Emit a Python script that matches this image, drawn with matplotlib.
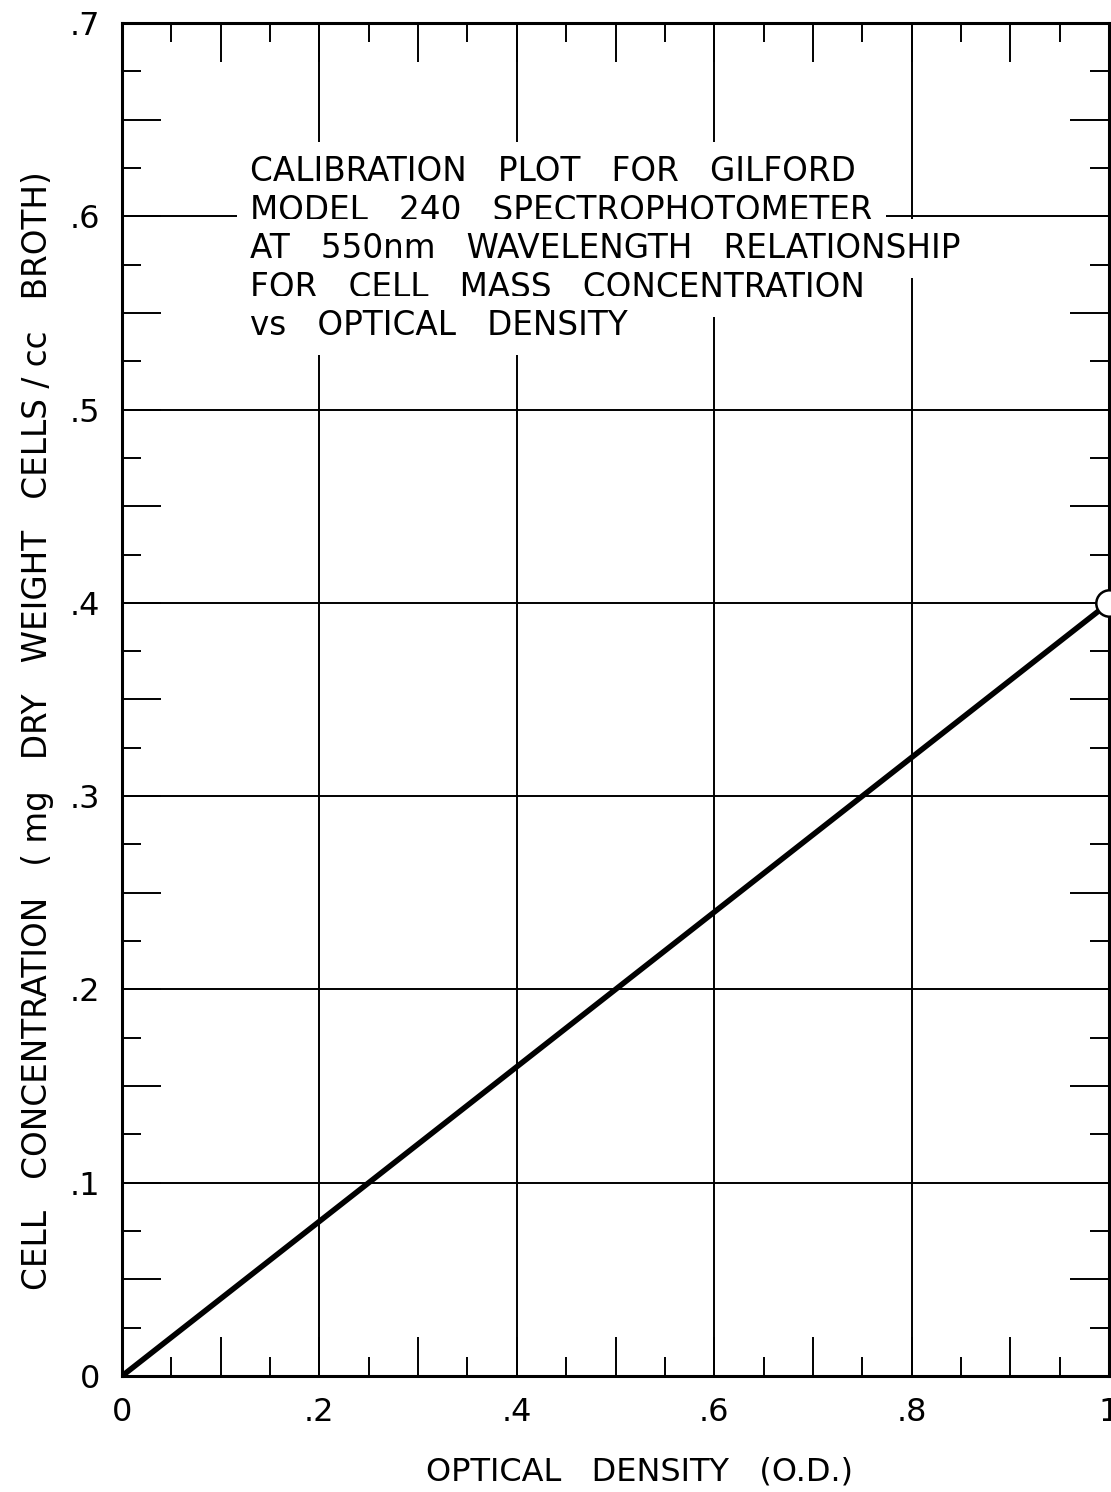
import matplotlib
matplotlib.use("Agg")
import matplotlib.pyplot as plt
import numpy as np
from matplotlib.ticker import MultipleLocator, FuncFormatter

# calibration line
od = [0.0, 1.0]
conc = [0.0, 0.4]
# the single open-circle point at the end of the line
pt_od = [1.0]
pt_conc = [0.4]

x_ticklabels = {0.0: "0", 0.2: ".2", 0.4: ".4", 0.6: ".6", 0.8: ".8", 1.0: "1"}
y_ticklabels = {0.0: "0", 0.1: ".1", 0.2: ".2", 0.3: ".3", 0.4: ".4",
                0.5: ".5", 0.6: ".6", 0.7: ".7"}

note_lines = [
    "CALIBRATION   PLOT   FOR   GILFORD",
    "MODEL   240   SPECTROPHOTOMETER",
    "AT   550nm   WAVELENGTH   RELATIONSHIP",
    "FOR   CELL   MASS   CONCENTRATION",
    "vs   OPTICAL   DENSITY",
]

plt.rcParams["font.family"] = ["DejaVu Sans"]

W, H = 1111, 1492
fig = plt.figure(figsize=(W / 100, H / 100), dpi=100)
ax = fig.add_axes([122 / W, 1 - 1376 / H, (1109 - 122) / W, (1376 - 23) / H])
ax.set_xlim(0, 1.0)
ax.set_ylim(0, 0.7)

for s in ax.spines.values():
    s.set_linewidth(2.2)

# grid only at the labelled values
for gx in np.arange(0.2, 1.0, 0.2):
    ax.axvline(gx, color="black", lw=1.4, zorder=1)
for gy in np.arange(0.1, 0.65, 0.1):
    ax.axhline(gy, color="black", lw=1.4, zorder=1)

# ticks: long / short inward on all four sides
ax.xaxis.set_major_locator(MultipleLocator(0.1))
ax.xaxis.set_minor_locator(MultipleLocator(0.05))
ax.yaxis.set_major_locator(MultipleLocator(0.05))
ax.yaxis.set_minor_locator(MultipleLocator(0.025))


def fmt_x(v, pos):
    for k, lab in x_ticklabels.items():
        if abs(v - k) < 1e-6:
            return lab
    return ""


def fmt_y(v, pos):
    for k, lab in y_ticklabels.items():
        if abs(v - k) < 1e-6:
            return lab
    return ""


ax.xaxis.set_major_formatter(FuncFormatter(fmt_x))
ax.yaxis.set_major_formatter(FuncFormatter(fmt_y))
ax.tick_params(which="major", direction="in", length=28, width=1.4,
               top=True, right=True, labelsize=23)
ax.tick_params(which="minor", direction="in", length=14, width=1.4,
               top=True, right=True)
ax.tick_params(axis="y", which="major", pad=16)
ax.tick_params(axis="x", which="major", pad=15)

ax.plot(od, conc, color="black", lw=4.0, solid_capstyle="butt", zorder=3)
ax.plot(pt_od, pt_conc, "o", ms=19, mfc="white", mec="black", mew=1.8,
        clip_on=False, zorder=5)

# annotation block, each line on its own white strip so the grid shows between
y0 = 0.623
for i, line in enumerate(note_lines):
    ax.text(0.13, y0 - i * 0.0199, line, fontsize=23.5, ha="left", va="center",
            zorder=4,
            bbox=dict(boxstyle="square,pad=0.4", fc="white", ec="none"))

fig.text(640 / W, 1 - 1472 / H, "OPTICAL   DENSITY   (O.D.)", fontsize=23,
         ha="center", va="center")
fig.text(38 / W, 1 - 731 / H,
         "CELL   CONCENTRATION   ( mg   DRY   WEIGHT   CELLS / cc   BROTH)",
         fontsize=23.5, rotation=90, ha="center", va="center")

fig.savefig("out.png", dpi=100)
